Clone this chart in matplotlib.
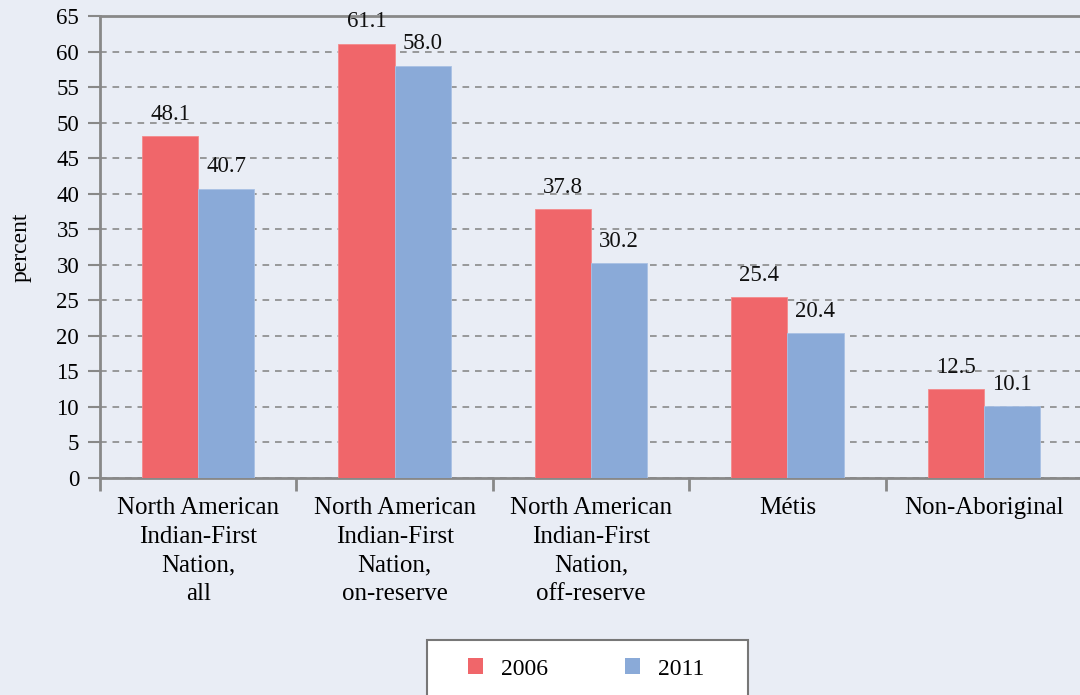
import matplotlib
matplotlib.use("Agg")
import matplotlib.pyplot as plt
from matplotlib.patches import Patch, Rectangle
import numpy as np

categories = ["North American\nIndian-First\nNation,\nall",
              "North American\nIndian-First\nNation,\non-reserve",
              "North American\nIndian-First\nNation,\noff-reserve",
              "Métis",
              "Non-Aboriginal"]
series_names = ["2006", "2011"]
values_2006 = [48.1, 61.1, 37.8, 25.4, 12.5]
values_2011 = [40.7, 58.0, 30.2, 20.4, 10.1]
yticks = list(range(0, 70, 5))

bg = "#E9EDF5"
red = "#F0666A"
blue = "#8AAAD8"
spine = "#888888"

plt.rcParams['font.family'] = ['Liberation Serif', 'DejaVu Serif']

fig = plt.figure(figsize=(10.8, 6.95), dpi=100, facecolor=bg)
ax = fig.add_axes([100/1080, (695-478)/695, 982/1080, (478-16)/695], facecolor=bg)

x = np.arange(len(categories))
w = 0.286
b1 = ax.bar(x - w/2, values_2006, w, color=red, edgecolor="#F48A8C", linewidth=0.6, zorder=3)
b2 = ax.bar(x + w/2, values_2011, w, color=blue, edgecolor="#A9C1E4", linewidth=0.6, zorder=3)

for bars, vals in ((b1, values_2006), (b2, values_2011)):
    for r, v in zip(bars, vals):
        ax.text(r.get_x() + r.get_width()/2, v + 1.6, f"{v:.1f}", ha="center", va="bottom",
                fontsize=16.5, color="#111111", zorder=4)

ax.set_xlim(-0.5, len(categories) - 0.5)
ax.set_ylim(0, 65)
ax.set_yticks(yticks)
ax.set_yticklabels([str(t) for t in yticks], fontsize=16.5)
ax.yaxis.grid(True, linestyle=(0, (4, 3.5)), color="#8a8a8a", linewidth=1.2, zorder=0)

ax.set_xticks(x)
ax.set_xticklabels(categories, fontsize=18, linespacing=1.38)
ax.tick_params(axis="x", length=0, pad=14)
ax.set_xticks(np.arange(len(categories)+1) - 0.5, minor=True)
ax.tick_params(axis="x", which="minor", length=9, width=2, color=spine, direction="out")
ax.tick_params(axis="y", length=9, width=1.5, color=spine, direction="out", pad=6)

for s in ("left", "bottom", "top"):
    ax.spines[s].set_color(spine)
    ax.spines[s].set_linewidth(2)
ax.spines["right"].set_visible(False)

ax.set_ylabel("percent", fontsize=17, labelpad=18)

# legend box (its lower edge falls below the figure, as in the reference)
fig.patches.append(Rectangle((427/1080, -0.05), (748-427)/1080, (695-640)/695 + 0.05,
                             transform=fig.transFigure, facecolor="white",
                             edgecolor="#777777", linewidth=1.5, zorder=1))
handles = [Patch(facecolor=red, edgecolor="none"), Patch(facecolor=blue, edgecolor="none")]
leg = fig.legend(handles, series_names, loc="center", bbox_to_anchor=(586/1080, 1 - 669/695),
                 ncol=2, fontsize=17, frameon=False,
                 handlelength=0.65, handleheight=0.65, handletextpad=0.75, columnspacing=3.25,
                 borderpad=0, borderaxespad=0)

fig.savefig("out.png", dpi=100, facecolor=bg)
